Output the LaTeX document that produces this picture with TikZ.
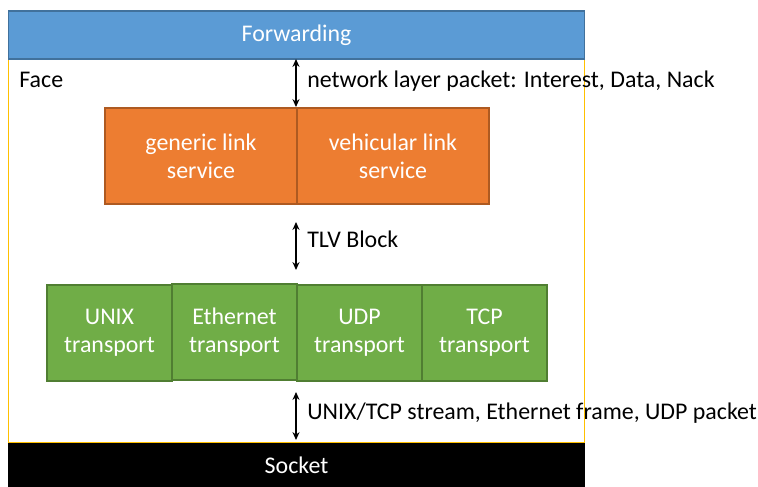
\documentclass[tikz,border=0pt]{standalone}
\usepackage{fontspec}
\setmainfont{Carlito}
\usepackage{tikz}
\usepackage{xcolor}
\usetikzlibrary{calc}
\usetikzlibrary{arrows.meta}
\definecolor{fwdcol}{HTML}{5B9BD5}
\definecolor{fwdline}{HTML}{41719C}
\definecolor{svccol}{HTML}{ED7D31}
\definecolor{svcline}{HTML}{AE5A21}
\definecolor{trcol}{HTML}{70AD47}
\definecolor{trline}{HTML}{507E32}
\definecolor{facecol}{HTML}{FFC000}

\begin{document}
\begin{tikzpicture}[x=0.02cm, y=-0.02cm, font=\fontsize{13.6}{16}\selectfont]
\tikzstyle{layer}=[inner sep=0pt, outer sep=0pt, minimum width=11.54cm, text=white]
\tikzstyle{svc}=[draw=svcline, fill=svccol, line width=0.6pt, inner sep=0pt, outer sep=0pt, minimum width=3.84cm, minimum height=1.92cm, align=center, text=white]
\tikzstyle{tr}=[draw=trline, fill=trcol, line width=0.6pt, inner sep=0pt, outer sep=0pt, minimum width=2.5cm, minimum height=1.92cm, align=center, text=white]
\tikzstyle{arrow}=[line width=0.9pt, {Stealth[length=4.5pt,width=4pt]}-{Stealth[length=4.5pt,width=4pt]}]
\tikzstyle{lbl}=[anchor=base west, inner sep=0pt]

\useasboundingbox (0,0) rectangle (758,487);

\coordinate (F) at (296.5,35);
\coordinate (S) at (296.5,465);
\coordinate (G) at (201,156);
\coordinate (V) at ($(G)+(192,0)$);
\coordinate (T1) at (109.5,333);
\coordinate (T2) at ($(T1)+(125,-1)$);
\coordinate (T3) at ($(T1)+(250,0)$);
\coordinate (T4) at ($(T1)+(375,0)$);

% face frame behind everything
\node (face) [draw=facecol, line width=0.6pt, minimum width=11.54cm, minimum height=7.68cm, inner sep=0pt, outer sep=0pt] at (296.5,251) {};
\node (facelbl) [lbl] at (19,87) {Face};

\node (fwd) [layer, fill=fwdcol, draw=fwdline, line width=0.6pt, minimum height=0.96cm] at (F) {Forwarding};
\node (sock) [layer, fill=black, minimum height=0.88cm] at (S) {Socket};

\node (gls) [svc] at (G) {generic link\\service};
\node (vls) [svc] at (V) {vehicular link\\service};

\node (unix) [tr] at (T1) {UNIX\\transport};
\node (eth) [tr] at (T2) {Ethernet\\transport};
\node (udp) [tr] at (T3) {UDP\\transport};
\node (tcp) [tr] at (T4) {TCP\\transport};

% arrows between the layers
\coordinate (a1) at ($(gls.north east)+(-1,-1)$);
\draw[arrow] (a1 |- fwd.south) -- (a1);
\node (netlbl) [lbl] at (307,87) {network layer packet: Interest, Data, Nack};

\coordinate (b1) at (296,222);
\coordinate (b2) at (296,270);
\draw[arrow] (b1) -- (b2);
\node (tlvlbl) [lbl] at (307,247) {TLV Block};

\coordinate (c1) at ($(udp.south west)+(-1,11)$);
\coordinate (c2) at ($(sock.north)+(-0.5,-3)$);
\draw[arrow] (c1) -- (c1 |- c2);
\node (sktlbl) [lbl] at (307,419) {UNIX/TCP stream, Ethernet frame, UDP packet};
\end{tikzpicture}
\end{document}
